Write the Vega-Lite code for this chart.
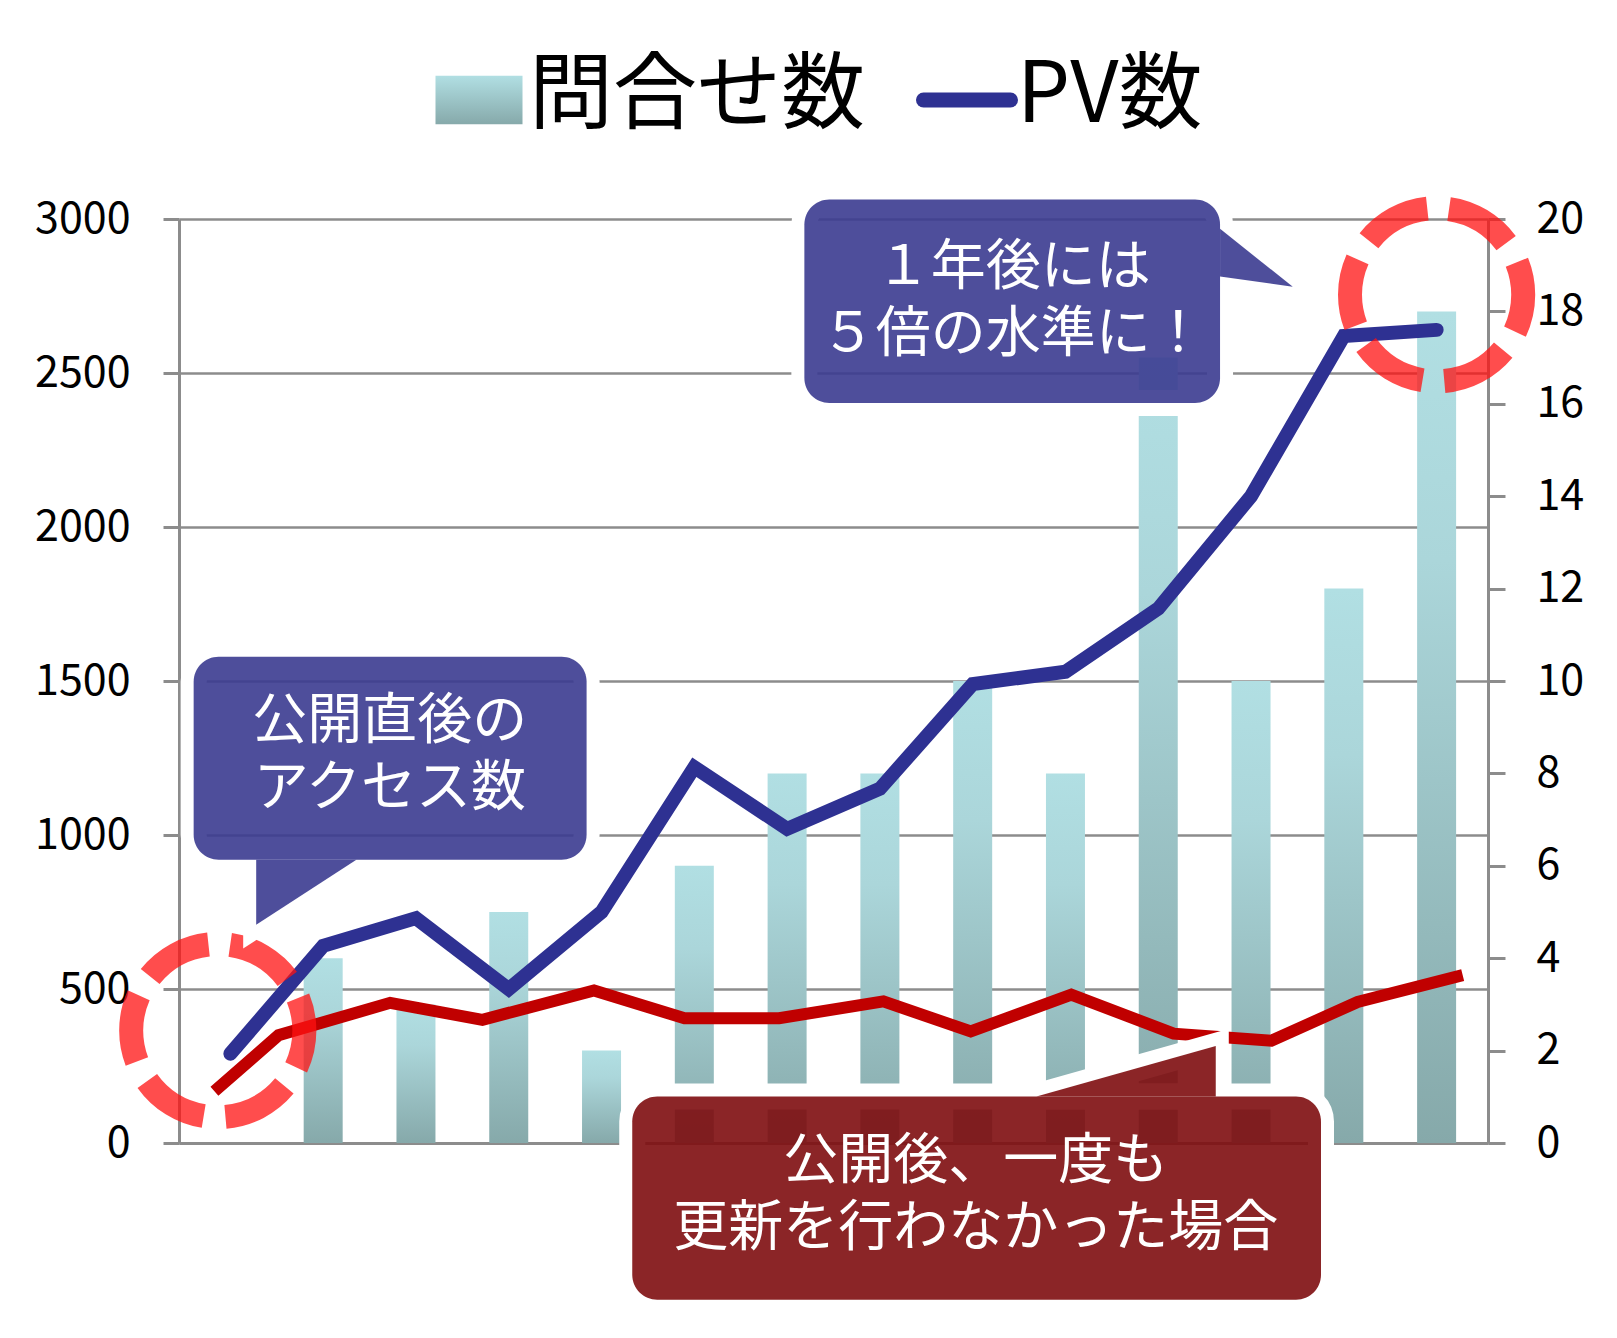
{
  "$schema": "https://vega.github.io/schema/vega-lite/v6.json",
  "width": 1309,
  "height": 924,
  "autosize": {"type": "none"},
  "padding": {"left": 179, "top": 219, "right": 129, "bottom": 195},
  "background": "white",
  "config": {
    "font": "Noto Sans CJK JP",
    "view": {"stroke": null},
    "axis": {
      "labelFont": "Noto Sans CJK JP",
      "labelFontSize": 43,
      "labelColor": "#000000",
      "domainColor": "#8c8c8c",
      "tickColor": "#8c8c8c",
      "gridColor": "#8c8c8c",
      "domainWidth": 3,
      "tickWidth": 3,
      "gridWidth": 2.5,
      "gridOpacity": 1
    }
  },
  "datasets": {
    "months": [
      {"month": 1, "inquiries": null, "pv": 290},
      {"month": 2, "inquiries": 4, "pv": 640},
      {"month": 3, "inquiries": 3, "pv": 730},
      {"month": 4, "inquiries": 5, "pv": 500},
      {"month": 5, "inquiries": 2, "pv": 750},
      {"month": 6, "inquiries": 6, "pv": 1220},
      {"month": 7, "inquiries": 8, "pv": 1020},
      {"month": 8, "inquiries": 8, "pv": 1150},
      {"month": 9, "inquiries": 10, "pv": 1490},
      {"month": 10, "inquiries": 8, "pv": 1530},
      {"month": 11, "inquiries": 17, "pv": 1735},
      {"month": 12, "inquiries": 10, "pv": 2100},
      {"month": 13, "inquiries": 12, "pv": 2620},
      {"month": 14, "inquiries": 18, "pv": 2640}
    ],
    "noupdate": [
      {"month": 0.828, "pv": 168},
      {"month": 1.519, "pv": 350},
      {"month": 2.722, "pv": 455},
      {"month": 3.716, "pv": 400},
      {"month": 4.919, "pv": 495},
      {"month": 5.894, "pv": 405},
      {"month": 6.914, "pv": 405},
      {"month": 8.038, "pv": 460},
      {"month": 8.979, "pv": 362},
      {"month": 10.063, "pv": 482},
      {"month": 11.166, "pv": 355},
      {"month": 12.22, "pv": 332},
      {"month": 13.149, "pv": 458},
      {"month": 14.281, "pv": 545}
    ],
    "circles": [
      {"month": 0.864, "pv": 365},
      {"month": 14.0, "pv": 2754}
    ],
    "boxes": [
      {"id": "A", "kind": "up", "x": 0.604, "x2": 4.839, "y": 1579, "y2": 920, "tx": 2.718, "ty": 1371, "label": "公開直後の\nアクセス数"},
      {"id": "B", "kind": "up", "x": 7.186, "x2": 11.666, "y": 3063, "y2": 2403, "tx": 9.438, "ty": 2845, "label": "１年後には\n５倍の水準に！"},
      {"id": "C", "kind": "down", "x": 5.331, "x2": 12.754, "y": 151, "y2": -509, "tx": 9.032, "ty": -57, "label": "公開後、一度も\n更新を行わなかった場合"}
    ],
    "tails": [
      {"id": "A", "kind": "up", "x": 1.278, "y": 709, "y2": 920},
      {"id": "A", "kind": "up", "x": 2.358, "y": 920, "y2": 920},
      {"id": "B", "kind": "up", "x": 11.666, "y": 2968, "y2": 2813},
      {"id": "B", "kind": "up", "x": 12.45, "y": 2780, "y2": 2780},
      {"id": "C", "kind": "down", "x": 9.687, "y": 151, "y2": 151},
      {"id": "C", "kind": "down", "x": 11.62, "y": 315, "y2": 151}
    ]
  },
  "layer": [
    {
      "data": {"name": "months"},
      "mark": {
        "type": "bar",
        "width": 39,
        "color": {
          "gradient": "linear", "x1": 0, "y1": 0, "x2": 0, "y2": 1,
          "stops": [
            {"offset": 0, "color": "#b1dfe3"},
            {"offset": 0.3, "color": "#abd6da"},
            {"offset": 1, "color": "#86a9aa"}
          ]
        }
      },
      "encoding": {
        "x": {
          "field": "month", "type": "quantitative",
          "scale": {"domain": [0.5, 14.5], "nice": false, "zero": false},
          "axis": {"labels": false, "ticks": false, "grid": false, "domain": true, "title": null}
        },
        "y": {
          "field": "inquiries", "type": "quantitative",
          "scale": {"domain": [0, 20], "nice": false},
          "axis": {"orient": "right", "values": [0, 2, 4, 6, 8, 10, 12, 14, 16, 18, 20], "format": "d", "grid": false, "tickSize": 17, "labelPadding": 31, "title": null}
        }
      }
    },
    {
      "layer": [
        {
          "data": {"name": "months"},
          "mark": {"type": "line", "strokeWidth": 14, "strokeCap": "round", "strokeJoin": "miter"},
          "encoding": {
            "x": {"field": "month", "type": "quantitative", "scale": {"domain": [0.5, 14.5], "nice": false, "zero": false}, "title": null},
            "y": {
              "field": "pv", "type": "quantitative",
              "scale": {"domain": [0, 3000], "nice": false},
              "axis": {"orient": "left", "values": [0, 500, 1000, 1500, 2000, 2500, 3000], "format": "d", "grid": true, "tickSize": 16, "labelPadding": 33, "title": null}
            },
            "color": {
              "datum": "PV数",
              "scale": {"domain": ["問合せ数", "PV数"], "range": ["#a9d6da", "#2e3192"]},
              "legend": {
                "orient": "none",
                "legendX": 258,
                "legendY": -161,
                "direction": "horizontal",
                "title": null,
                "padding": 0,
                "symbolSize": 7569,
                "labelFont": "Noto Sans CJK JP",
                "labelFontSize": 84,
                "labelLimit": 0,
                "labelColor": "#000000",
                "labelOffset": 8,
                "columnPadding": 27,
                "encode": {
                  "symbols": {
                    "update": {
                      "shape": {"signal": "datum.value === 'PV数' ? 'stroke' : 'M-1,-0.56H1V0.56H-1Z'"},
                      "fill": {"signal": "datum.value === 'PV数' ? 'transparent' : {gradient: 'linear', x1: 0, y1: 0, x2: 0, y2: 1, stops: [{offset: 0, color: '#b1dfe3'}, {offset: 1, color: '#86a9aa'}]}"},
                      "stroke": {"signal": "datum.value === 'PV数' ? '#2e3192' : 'transparent'"},
                      "strokeWidth": {"signal": "datum.value === 'PV数' ? 15 : 0"},
                      "strokeCap": {"value": "round"},
                      "opacity": {"value": 1}
                    }
                  },
                  "labels": {"update": {"dy": {"value": -3}}}
                }
              }
            }
          }
        },
        {
          "data": {"name": "noupdate"},
          "mark": {"type": "line", "color": "#c00000", "strokeWidth": 12, "strokeJoin": "miter"},
          "encoding": {
            "x": {"field": "month", "type": "quantitative", "title": null},
            "y": {"field": "pv", "type": "quantitative", "title": null}
          }
        },
        {
          "data": {"name": "circles"},
          "mark": {"type": "point", "shape": "circle", "filled": false, "color": "#ff1212", "opacity": 0.75, "strokeWidth": 24, "strokeDash": [68, 22], "strokeDashOffset": 30, "size": 30000},
          "encoding": {
            "x": {"field": "month", "type": "quantitative", "title": null},
            "y": {"field": "pv", "type": "quantitative", "title": null}
          }
        },
        {
          "data": {"name": "boxes"},
          "mark": {"type": "rect", "fill": "white", "fillOpacity": 0, "stroke": "white", "strokeWidth": 26, "cornerRadius": 25},
          "encoding": {
            "x": {"field": "x", "type": "quantitative", "title": null},
            "x2": {"field": "x2"},
            "y": {"field": "y", "type": "quantitative", "title": null},
            "y2": {"field": "y2"}
          }
        },
        {
          "data": {"name": "tails"},
          "mark": {"type": "area", "fill": "white", "fillOpacity": 0, "stroke": "white", "strokeWidth": 26, "strokeJoin": "miter", "strokeMiterLimit": 4},
          "encoding": {
            "x": {"field": "x", "type": "quantitative", "title": null},
            "y": {"field": "y", "type": "quantitative", "title": null},
            "y2": {"field": "y2"},
            "detail": {"field": "id"}
          }
        },
        {
          "data": {"name": "boxes"},
          "mark": {"type": "rect", "cornerRadius": 25, "fillOpacity": 0.9},
          "encoding": {
            "x": {"field": "x", "type": "quantitative", "title": null},
            "x2": {"field": "x2"},
            "y": {"field": "y", "type": "quantitative", "title": null},
            "y2": {"field": "y2"},
            "fill": {"field": "kind", "type": "nominal", "scale": {"domain": ["up", "down"], "range": ["#3b3b90", "#7e0d10"]}, "legend": null}
          }
        },
        {
          "data": {"name": "tails"},
          "mark": {"type": "area", "fillOpacity": 0.9},
          "encoding": {
            "x": {"field": "x", "type": "quantitative", "title": null},
            "y": {"field": "y", "type": "quantitative", "title": null},
            "y2": {"field": "y2"},
            "detail": {"field": "id"},
            "fill": {"field": "kind", "type": "nominal", "scale": {"domain": ["up", "down"], "range": ["#3b3b90", "#7e0d10"]}, "legend": null}
          }
        },
        {
          "data": {"name": "boxes"},
          "mark": {"type": "text", "color": "white", "font": "Noto Sans CJK JP", "fontSize": 55, "lineHeight": 67, "lineBreak": "\n", "align": "center", "baseline": "middle"},
          "encoding": {
            "x": {"field": "tx", "type": "quantitative", "title": null},
            "y": {"field": "ty", "type": "quantitative", "title": null},
            "text": {"field": "label"}
          }
        }
      ]
    }
  ],
  "resolve": {"scale": {"y": "independent"}}
}
